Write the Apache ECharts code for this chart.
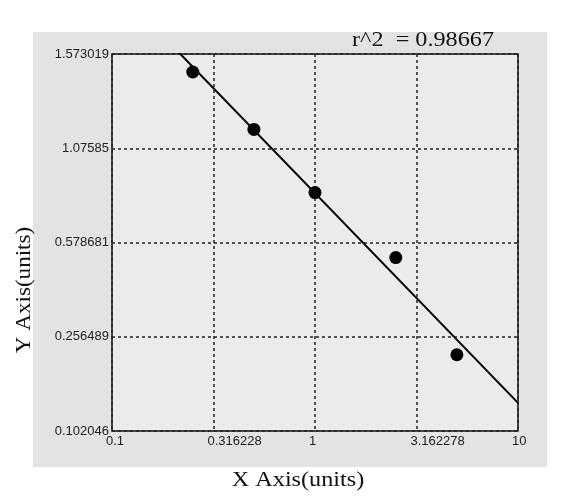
<!DOCTYPE html>
<html>
<head>
<meta charset="utf-8">
<script src="https://cdn.jsdelivr.net/npm/echarts@6/dist/echarts.min.js"></script>
<style>html,body{margin:0;padding:0;background:#fff;}#c{width:574px;height:503px;}</style>
</head>
<body>
<div id="c"></div>
<script>
const xValues = [0.25, 0.5, 1, 2.5, 5];
const yValues = [1.478, 1.175, 0.842, 0.527, 0.227];
const xTickLabels = ['0.1', '0.316228', '1', '3.162278', '10'];
const yTickLabels = ['0.102046', '0.256489', '0.578681', '1.07585', '1.573019'];
const rSquaredText = 'r^2  = 0.98667';
const xTitle = 'X Axis(units)';
const yTitle = 'Y Axis(units)';

const yTicks = yTickLabels.map(Number);
function yToAxis(v) {
  for (let i = 0; i < yTicks.length - 1; i++) {
    if (v <= yTicks[i + 1] || i === yTicks.length - 2) {
      return i + (v - yTicks[i]) / (yTicks[i + 1] - yTicks[i]);
    }
  }
}
const pts = xValues.map((x, i) => [Math.log10(x), yToAxis(yValues[i])]);
// least-squares fit in axis space
const n = pts.length;
const mx = pts.reduce((s, p) => s + p[0], 0) / n;
const my = pts.reduce((s, p) => s + p[1], 0) / n;
let sxy = 0, sxx = 0;
pts.forEach(p => { sxy += (p[0] - mx) * (p[1] - my); sxx += (p[0] - mx) * (p[0] - mx); });
const slope = sxy / sxx;
const fitLine = [-1, 1].map(x => [x, my + slope * (x - mx)]);

const chart = echarts.init(document.getElementById('c'), null, {renderer: 'canvas'});
const gridLine = {show: true, lineStyle: {color: '#222', width: 1.5, type: [3, 3]}};
const serif = '22px "Liberation Serif"';
chart.setOption({
  backgroundColor: '#ffffff',
  animation: false,
  graphic: [
    {type: 'rect', z: -10, shape: {x: 33, y: 32, width: 514, height: 435}, style: {fill: '#e3e3e3'}},
    {type: 'text', x: 423, y: 40, scaleX: 1.1, style: {text: rSquaredText, font: serif, fill: '#111', align: 'center', verticalAlign: 'middle'}},
    {type: 'text', x: 298, y: 480, scaleX: 1.1, style: {text: xTitle, font: serif, fill: '#111', align: 'center', verticalAlign: 'middle'}},
    {type: 'text', x: 24, y: 290, rotation: Math.PI / 2, scaleX: 1.05, style: {text: yTitle, font: serif, fill: '#111', align: 'center', verticalAlign: 'middle'}}
  ],
  grid: {left: 112, top: 54, right: 56, bottom: 72, show: true, backgroundColor: '#ebebeb', borderColor: '#111', borderWidth: 1.5},
  xAxis: {
    type: 'value', min: -1, max: 1, interval: 0.5,
    axisLine: {show: false}, axisTick: {show: false},
    splitLine: gridLine,
    axisLabel: {
      margin: 4, align: 'left', color: '#222', fontFamily: 'Liberation Sans', fontSize: 13,
      padding: [0, 0, 0, -6],
      formatter: v => xTickLabels[Math.round((v + 1) / 0.5)]
    }
  },
  yAxis: {
    type: 'value', min: 0, max: 4, interval: 1,
    axisLine: {show: false}, axisTick: {show: false},
    splitLine: gridLine,
    axisLabel: {
      margin: 3, color: '#222', fontFamily: 'Liberation Sans', fontSize: 13,
      formatter: v => yTickLabels[Math.round(v)]
    }
  },
  series: [
    {type: 'line', data: fitLine, showSymbol: false, clip: true, lineStyle: {color: '#000', width: 2}, z: 3},
    {type: 'scatter', data: pts, symbol: 'circle', symbolSize: 13, itemStyle: {color: '#000', opacity: 1}, z: 4}
  ]
});
</script>
</body>
</html>
